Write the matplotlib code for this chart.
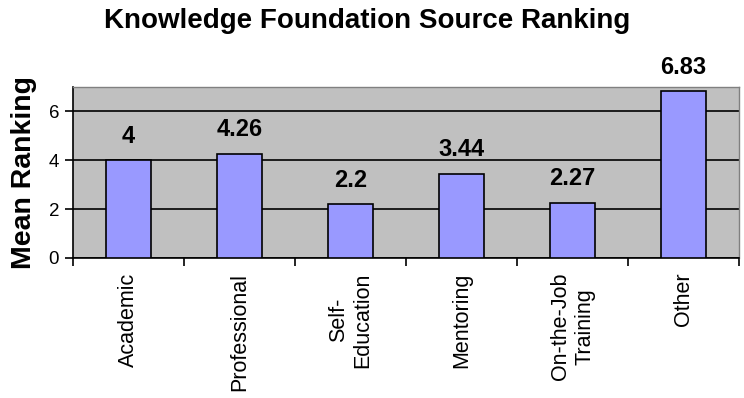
import matplotlib.pyplot as plt
import numpy as np

plt.rcParams['font.family'] = ['Liberation Sans', 'DejaVu Sans']

# Mean ranking per knowledge source
categories = ['Academic', 'Professional', 'Self-\nEducation', 'Mentoring',
              'On-the-Job\nTraining', 'Other']
values = [4, 4.26, 2.2, 3.44, 2.27, 6.83]
value_labels = ['4', '4.26', '2.2', '3.44', '2.27', '6.83']
yticks = [0, 2, 4, 6]

fig = plt.figure(figsize=(7.44, 3.98), dpi=100)
ax = fig.add_axes([0.0981, 0.3518, 0.8952, 0.4296])
ax.set_facecolor('#C0C0C0')

x = np.arange(len(categories))
ax.bar(x, values, width=0.4, color='#9999FF', edgecolor='black',
       linewidth=1.2, zorder=3)

for xi, v, lab in zip(x, values, value_labels):
    ax.annotate(lab, (xi, v), xytext=(0, 9), textcoords='offset points',
                ha='center', va='bottom', fontsize=17, fontweight='bold',
                annotation_clip=False)

ax.set_xlim(-0.5, len(categories) - 0.5)
ax.set_ylim(0, 7)
ax.set_yticks(yticks)
ax.yaxis.grid(True, color='black', linewidth=1.2, zorder=1)
ax.set_axisbelow(True)

# ticks between categories, labels centered under bars
ax.set_xticks(np.arange(-0.5, len(categories)), minor=False)
ax.set_xticklabels([])
ax.set_xticks(x, minor=True)
ax.set_xticklabels(categories, minor=True, rotation=90, ha='center', va='top',
                   fontsize=15.5, multialignment='center')
ax.tick_params(axis='x', which='minor', length=0, pad=10.5)
ax.tick_params(axis='x', which='major', length=6, width=1.2, direction='out')
ax.tick_params(axis='y', length=6, width=1.2, labelsize=13.5, pad=4)

for s in ['top', 'right']:
    ax.spines[s].set_color('#808080')
    ax.spines[s].set_linewidth(1.0)
for s in ['left', 'bottom']:
    ax.spines[s].set_linewidth(1.2)

ax.set_ylabel('Mean Ranking', fontsize=20.5, fontweight='bold', labelpad=8)
fig.text(0.494, 0.948, 'Knowledge Foundation Source Ranking', ha='center',
         va='center', fontsize=20, fontweight='bold')

fig.savefig('out.png', dpi=100)
